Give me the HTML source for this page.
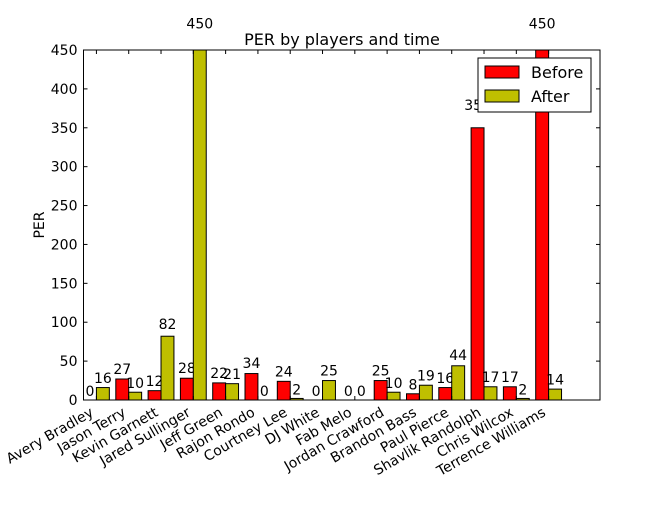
<!DOCTYPE html>
<html><head><meta charset="utf-8"><style>
body{margin:0;background:#fff}
svg text{font-family:"DejaVu Sans","Liberation Sans",sans-serif}
</style></head><body>
<svg id="c" width="666" height="500" xmlns="http://www.w3.org/2000/svg"></svg>
<script>
const players=["Avery Bradley","Jason Terry","Kevin Garnett","Jared Sullinger","Jeff Green","Rajon Rondo","Courtney Lee","DJ White","Fab Melo","Jordan Crawford","Brandon Bass","Paul Pierce","Shavlik Randolph","Chris Wilcox","Terrence Williams"];
const before=[0,27,12,28,22,34,24,0,0,25,8,16,350,17,450];
const after=[16,10,82,450,21,0,2,25,0,10,19,44,17,2,14];
const yTicks=[0,50,100,150,200,250,300,350,400,450];
const L=83.5,R=600,T=50,B=400,ymax=450;
const n=players.length, gw=32.3, bw=gw*0.4;
const y=v=>B-(v/ymax)*(B-T);
const xs=i=>L+i*gw;
const svg=document.getElementById('c');
const NS="http://www.w3.org/2000/svg";
function mk(t,a,p){const e=document.createElementNS(NS,t);for(const k in a)e.setAttribute(k,a[k]);(p||svg).appendChild(e);return e;}
players.forEach((p,i)=>{
  [[before,'#ff0000',0,'bar-before'],[after,'#bfbf00',1,'bar-after']].forEach(([arr,col,k,nm])=>{
    const x=xs(i)+k*bw, v=arr[i];
    const r=mk('rect',{x:x,y:y(v),width:bw,height:B-y(v),fill:col,stroke:'#000','stroke-width':1});
    
    
    const t=mk('text',{x:x+bw/2,y:y(v*1.05)-4,'text-anchor':'middle','font-size':14});
    t.textContent=v;
    
    
  });
  const tx=xs(i)+bw;
  mk('line',{x1:tx,x2:tx,y1:B,y2:B-4,stroke:'#000'});
  mk('line',{x1:tx,x2:tx,y1:T,y2:T+4,stroke:'#000'});
  const lb=mk('text',{x:tx-2,y:B+15,'text-anchor':'end','font-size':14,transform:`rotate(-30 ${tx-2} ${B+15})`});
  lb.textContent=p;
  
  
});
yTicks.forEach(v=>{
  mk('line',{x1:L,x2:L+4,y1:y(v),y2:y(v),stroke:'#000'});
  mk('line',{x1:R,x2:R-4,y1:y(v),y2:y(v),stroke:'#000'});
  const t=mk('text',{x:L-6,y:y(v)+5,'text-anchor':'end','font-size':14});
  t.textContent=v;
  
  
});
const ax=mk('rect',{x:L,y:T,width:R-L,height:B-T,fill:'none',stroke:'#000','stroke-width':1});


</script>
<svg width="666" height="500" style="position:absolute;left:0;top:0">
<text x="342" y="45" text-anchor="middle" font-size="16">PER by players and time</text>
<text x="44" y="225" text-anchor="middle" font-size="14" transform="rotate(-90 44 225)">PER</text>
<g>
<rect x="478" y="58" width="113" height="54" fill="#fff" stroke="#000"/>
<rect x="485" y="66" width="34" height="12" fill="#ff0000" stroke="#000"/>
<text x="531" y="78" font-size="16">Before</text>
<rect x="485" y="90" width="34" height="12" fill="#bfbf00" stroke="#000"/>
<text x="531" y="102" font-size="16">After</text>
</g>
</svg>
</body></html>
